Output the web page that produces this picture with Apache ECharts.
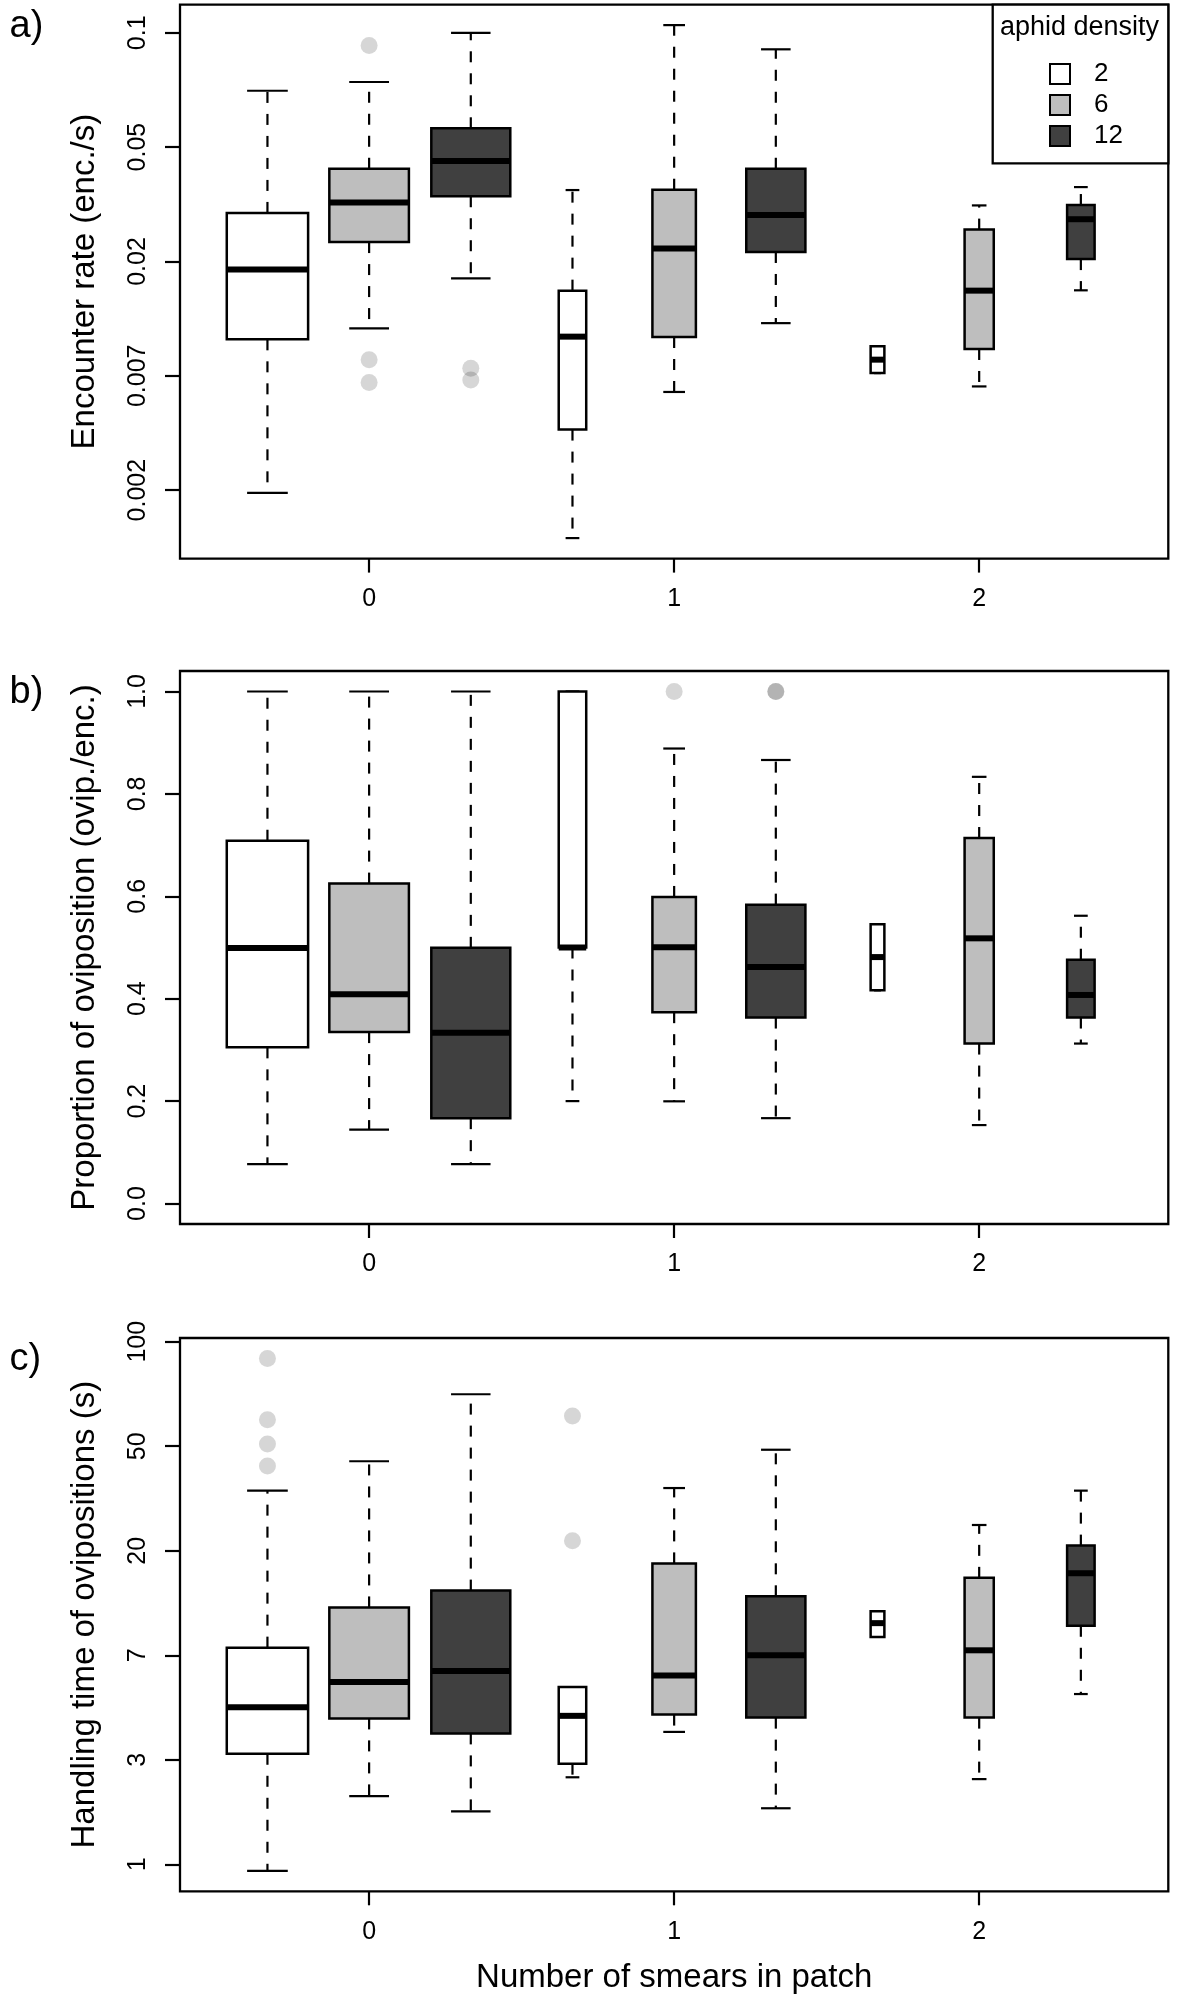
<!DOCTYPE html>
<html><head><meta charset="utf-8">
<script src="https://cdn.jsdelivr.net/npm/echarts@6/dist/echarts.min.js"></script>
<style>html,body{margin:0;padding:0;background:#fff}#chart{width:1200px;height:2000px}</style>
</head><body><div id="chart"></div>
<script>
// ---------- data ----------
const smearGroups = ['0', '1', '2'];          // number of smears in patch
const densities = ['2', '6', '12'];           // aphid density
// sample sizes (varwidth), [smear 0, 1, 2]
const sampleSize_d2 = [70, 8, 2];
const sampleSize_d6 = [67, 20, 9];
const sampleSize_d12 = [66, 37, 8];

// five-number stats [lower whisker, Q1, median, Q3, upper whisker], per smear group
// a) encounter rate (enc./s)
const encounter_d2 = [[0.00242, 0.00927, 0.01708, 0.0280, 0.0815], [0.00163, 0.00421, 0.00949, 0.01419, 0.0342], [0.00690, 0.00690, 0.00776, 0.00872, 0.00872]];
const encounter_d6 = [[0.0102, 0.0217, 0.0307, 0.0412, 0.0880], [0.00585, 0.00946, 0.0205, 0.0343, 0.1447], [0.00614, 0.00852, 0.01419, 0.0242, 0.0299]];
const encounter_d12 = [[0.0158, 0.0324, 0.0441, 0.0587, 0.1353], [0.01068, 0.0199, 0.0275, 0.0412, 0.1171], [0.01423, 0.0187, 0.0265, 0.0300, 0.0351]];
const encounterOutliers = [[0, 1, 0.121], [0, 1, 0.00776], [0, 1, 0.00635], [0, 2, 0.00720], [0, 2, 0.00650]]; // [smear, density, value]

// b) proportion of oviposition
const proportion_d2 = [[0.077, 0.305, 0.499, 0.7085, 1.0], [0.2, 0.5, 0.5, 1.0, 1.0], [0.4163, 0.4163, 0.4813, 0.5456, 0.5456]];
const proportion_d6 = [[0.1442, 0.3348, 0.4088, 0.6248, 1.0], [0.1996, 0.3737, 0.5007, 0.5987, 0.8886], [0.1532, 0.3124, 0.5179, 0.7138, 0.8333]];
const proportion_d12 = [[0.077, 0.1667, 0.3333, 0.4993, 1.0], [0.1667, 0.3632, 0.4619, 0.5837, 0.8662], [0.3124, 0.3632, 0.4073, 0.4761, 0.5620]];
const proportionOutliers = [[1, 1, 1.0], [1, 2, 1.0], [1, 2, 1.0]];

// c) handling time of ovipositions (s)
const handling_d2 = [[0.94, 2.88, 4.50, 7.95, 35.7], [2.30, 2.62, 4.14, 5.45, 5.45], [8.81, 8.81, 10.05, 11.26, 11.26]];
const handling_d6 = [[1.92, 4.04, 5.72, 11.68, 47.3], [3.55, 4.19, 6.09, 17.8, 36.6], [2.26, 4.07, 7.75, 15.5, 25.7]];
const handling_d12 = [[1.66, 3.50, 6.36, 13.72, 89.8], [1.71, 4.07, 7.39, 12.99, 52.8], [5.10, 9.80, 16.2, 21.1, 35.7]];
const handlingOutliers = [[0, 0, 126.4], [0, 0, 70.3], [0, 0, 55.8], [0, 0, 45.2], [1, 0, 72.9], [1, 0, 22.1]];

// y tick values in transformed (ln) units for log panels, raw for linear
const encounterTicks = [-6, -5, -4, -3, -2];
const proportionTicks = [0, 0.2, 0.4, 0.6, 0.8, 1.0];
const handlingTicks = [0, 1, 2, 3, 4, 5];
const proportionLimits = [0, 1];

// ---------- styles / layout ----------
const FONT = '"Liberation Sans", Arial, Helvetica, sans-serif';
const fills = ['#ffffff', '#bebebe', '#404040'];
const sampleSizes = [sampleSize_d2, sampleSize_d6, sampleSize_d12];
const maxN = Math.max(...sampleSizes.flat());
const GRID_LEFT = 180, GRID_RIGHT = 31.7;

const panels = [
  {label: 'a)', top: 4.6, height: 554, log: true, stats: [encounter_d2, encounter_d6, encounter_d12], outliers: encounterOutliers, ticks: encounterTicks, name: 'Encounter rate (enc./s)'},
  {label: 'b)', top: 671, height: 553, log: false, stats: [proportion_d2, proportion_d6, proportion_d12], outliers: proportionOutliers, ticks: proportionTicks, limits: proportionLimits, name: 'Proportion of oviposition (ovip./enc.)'},
  {label: 'c)', top: 1338, height: 553.3, log: true, stats: [handling_d2, handling_d6, handling_d12], outliers: handlingOutliers, ticks: handlingTicks, name: 'Handling time of ovipositions (s)'}
];

const pos = (s, d) => s * 3 + d + 1;
const nBoxes = smearGroups.length * densities.length;
const xMin = 0.5 - 0.04 * nBoxes, xMax = nBoxes + 0.5 + 0.04 * nBoxes;
const xTickVals = smearGroups.map((g, s) => pos(s, 1));

function renderBox(params, api) {
  const x = api.value(0);
  const pLo = api.coord([x, api.value(1)]);
  const pQ1 = api.coord([x, api.value(2)]);
  const pMed = api.coord([x, api.value(3)]);
  const pQ3 = api.coord([x, api.value(4)]);
  const pHi = api.coord([x, api.value(5)]);
  const halfW = api.size([api.value(6), 0])[0] / 2;
  const cx = pMed[0];
  const fill = api.visual('color');
  const wl = {stroke: '#000', lineWidth: 2.2, lineDash: [11, 11]};
  const sl = {stroke: '#000', lineWidth: 2.2};
  return {
    type: 'group',
    children: [
      {type: 'line', shape: {x1: cx, y1: pQ3[1], x2: cx, y2: pHi[1]}, style: wl},
      {type: 'line', shape: {x1: cx, y1: pQ1[1], x2: cx, y2: pLo[1]}, style: wl},
      {type: 'line', shape: {x1: cx - halfW / 2, y1: pHi[1], x2: cx + halfW / 2, y2: pHi[1]}, style: sl},
      {type: 'line', shape: {x1: cx - halfW / 2, y1: pLo[1], x2: cx + halfW / 2, y2: pLo[1]}, style: sl},
      {type: 'rect', shape: {x: cx - halfW, y: pQ3[1], width: 2 * halfW, height: pQ1[1] - pQ3[1]}, style: {fill: fill, stroke: '#000', lineWidth: 2.5}},
      {type: 'line', shape: {x1: cx - halfW, y1: pMed[1], x2: cx + halfW, y2: pMed[1]}, style: {stroke: '#000', lineWidth: 6}}
    ]
  };
}

const fmtSig = v => String(Number(Math.exp(v).toPrecision(1)));

const grid = [], xAxis = [], yAxis = [], series = [], graphic = [];
panels.forEach((p, pi) => {
  const tf = p.log ? Math.log : (v => v);
  const allVals = p.limits ? p.limits.map(tf) : p.stats.flat(2).concat(p.outliers.map(o => o[2])).map(tf);
  const lo = Math.min(...allVals), hi = Math.max(...allVals);
  const ext = 0.04 * (hi - lo);
  grid.push({left: GRID_LEFT, right: GRID_RIGHT, top: p.top, height: p.height, show: true, borderColor: '#000', borderWidth: 2.3, backgroundColor: 'transparent'});
  xAxis.push({
    gridIndex: pi, type: 'value', min: xMin, max: xMax, position: 'bottom',
    axisLine: {show: false, onZero: false}, splitLine: {show: false},
    axisTick: {show: true, length: 14, lineStyle: {color: '#000', width: 2.2}, customValues: xTickVals},
    axisLabel: {show: true, fontSize: 25, color: '#000', fontFamily: FONT, margin: 28, customValues: xTickVals,
      formatter: v => smearGroups[Math.round((v - 2) / 3)]},
    name: pi === panels.length - 1 ? 'Number of smears in patch' : '',
    nameLocation: 'middle', nameGap: 70,
    nameTextStyle: {fontSize: 33, color: '#000', fontFamily: FONT}
  });
  yAxis.push({
    gridIndex: pi, type: 'value', min: lo - ext, max: hi + ext, position: 'left',
    axisLine: {show: false, onZero: false}, splitLine: {show: false},
    axisTick: {show: true, length: 15, lineStyle: {color: '#000', width: 2.2}, customValues: p.ticks},
    axisLabel: {show: true, rotate: 90, fontSize: 25, color: '#000', fontFamily: FONT, margin: 29, customValues: p.ticks,
      showMinLabel: true, showMaxLabel: true,
      formatter: p.log ? fmtSig : (v => v.toFixed(1))},
    name: p.name, nameLocation: 'middle', nameGap: 79, nameRotate: 90,
    nameTextStyle: {fontSize: 33, color: '#000', fontFamily: FONT}
  });
  densities.forEach((d, di) => {
    series.push({
      type: 'custom', name: d, xAxisIndex: pi, yAxisIndex: pi,
      renderItem: renderBox,
      itemStyle: {color: fills[di]},
      encode: {x: 0, y: [1, 2, 3, 4, 5]},
      data: p.stats[di].map((st, s) => [pos(s, di)].concat(st.map(tf)).concat([0.8 * Math.sqrt(sampleSizes[di][s] / maxN)])),
      z: 2
    });
  });
  series.push({
    type: 'scatter', name: 'outliers', xAxisIndex: pi, yAxisIndex: pi,
    symbol: 'circle', symbolSize: 17,
    itemStyle: {color: 'rgba(0,0,0,0.2)', borderWidth: 0},
    data: p.outliers.map(o => [pos(o[0], o[1]), tf(o[2])]),
    z: 3
  });
  graphic.push({type: 'text', left: 9.6, top: p.top + 3, style: {text: p.label, font: '38px ' + FONT, fill: '#000'}});
});

// legend box + title
graphic.push({type: 'rect', shape: {x: 992.7, y: 4.6, width: 1200 - GRID_RIGHT - 992.7, height: 163.3 - 4.6}, style: {fill: '#fff', stroke: '#000', lineWidth: 2.3}, z: 5});
graphic.push({type: 'text', x: 1079.5, y: 28, style: {text: 'aphid density', font: '27px ' + FONT, fill: '#000', align: 'center', verticalAlign: 'middle'}, z: 6});

const option = {
  animation: false,
  backgroundColor: '#fff',
  grid, xAxis, yAxis, series, graphic,
  legend: {
    orient: 'vertical', left: 1049, top: 61, padding: 0, itemWidth: 20, itemHeight: 20, itemGap: 5,
    selectedMode: false, z: 10,
    data: densities.map((d, i) => ({name: d, icon: 'rect', itemStyle: {color: fills[i], borderColor: '#000', borderWidth: 2}})),
    textStyle: {fontSize: 26, color: '#000', fontFamily: FONT, padding: [0, 0, 0, 19]}
  }
};
const chart = echarts.init(document.getElementById('chart'));
chart.setOption(option);
</script>
</body></html>
